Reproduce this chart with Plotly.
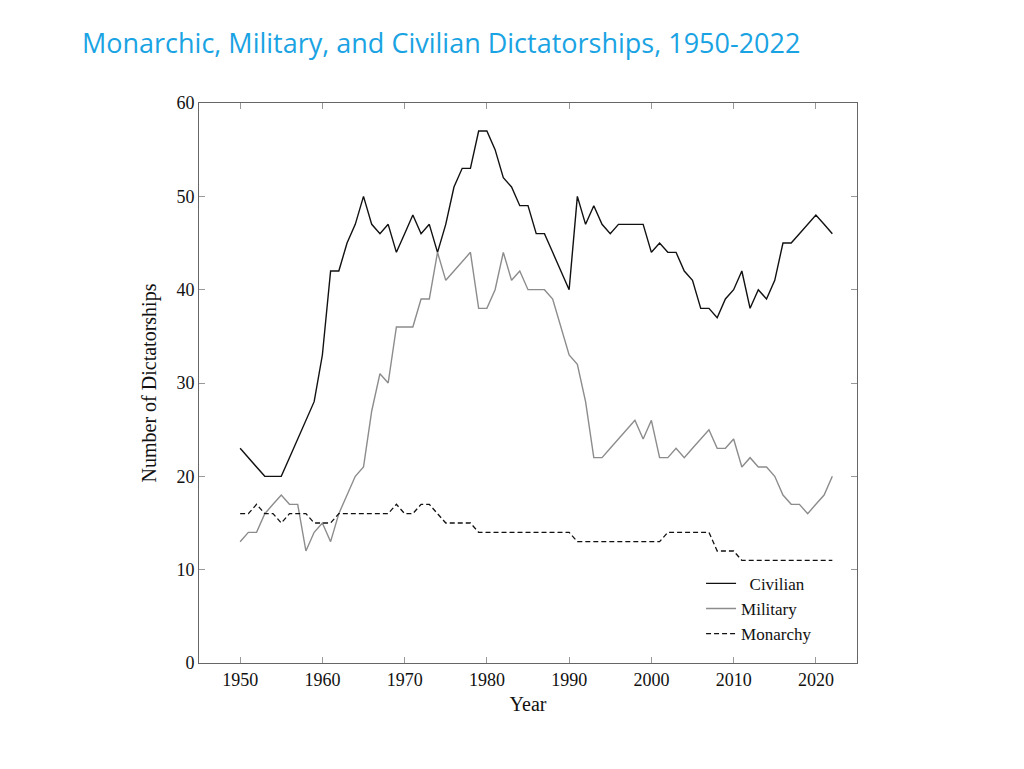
import plotly.graph_objects as go

years = list(range(1950, 2023))

civilian = [23, 22, 21, 20, 20, 20, 22, 24, 26, 28,
            33, 42, 42, 45, 47, 50, 47, 46, 47, 44,
            46, 48, 46, 47, 44, 47, 51, 53, 53, 57,
            57, 55, 52, 51, 49, 49, 46, 46, 44, 42,
            40, 50, 47, 49, 47, 46, 47, 47, 47, 47,
            44, 45, 44, 44, 42, 41, 38, 38, 37, 39,
            40, 42, 38, 40, 39, 41, 45, 45, 46, 47,
            48, 47, 46]

military = [13, 14, 14, 16, 17, 18, 17, 17, 12, 14,
            15, 13, 16, 18, 20, 21, 27, 31, 30, 36,
            36, 36, 39, 39, 44, 41, 42, 43, 44, 38,
            38, 40, 44, 41, 42, 40, 40, 40, 39, 36,
            33, 32, 28, 22, 22, 23, 24, 25, 26, 24,
            26, 22, 22, 23, 22, 23, 24, 25, 23, 23,
            24, 21, 22, 21, 21, 20, 18, 17, 17, 16,
            17, 18, 20]

monarchy = [16, 16, 17, 16, 16, 15, 16, 16, 16, 15,
            15, 15, 16, 16, 16, 16, 16, 16, 16, 17,
            16, 16, 17, 17, 16, 15, 15, 15, 15, 14,
            14, 14, 14, 14, 14, 14, 14, 14, 14, 14,
            14, 13, 13, 13, 13, 13, 13, 13, 13, 13,
            13, 13, 14, 14, 14, 14, 14, 14, 12, 12,
            12, 11, 11, 11, 11, 11, 11, 11, 11, 11,
            11, 11, 11]

x_ticks = [1950, 1960, 1970, 1980, 1990, 2000, 2010, 2020]
y_ticks = [0, 10, 20, 30, 40, 50, 60]

serif = "Liberation Serif, Times New Roman, serif"

fig = go.Figure()
fig.add_trace(go.Scatter(x=years, y=civilian, mode="lines", name="\u00a0\u00a0Civilian",
                         line=dict(color="#111111", width=1.4)))
fig.add_trace(go.Scatter(x=years, y=military, mode="lines", name="Military",
                         line=dict(color="#8c8c8c", width=1.4)))
fig.add_trace(go.Scatter(x=years, y=monarchy, mode="lines", name="Monarchy",
                         line=dict(color="#111111", width=1.3, dash="5px,3px")))

fig.update_layout(
    width=1024, height=769,
    margin=dict(l=191, r=175, t=95, b=114),
    paper_bgcolor="white", plot_bgcolor="white",
    font=dict(family=serif, size=18, color="#111111"),
    showlegend=True,
    legend=dict(x=0.763, y=0.02, xanchor="left", yanchor="bottom",
                bgcolor="rgba(0,0,0,0)", font=dict(family=serif, size=17),
                tracegroupgap=0, itemwidth=30),
    title=dict(text="Monarchic, Military, and Civilian Dictatorships, 1950-2022",
               xref="container", yref="container", x=74 / 1024, y=1 - 36 / 769,
               xanchor="left", yanchor="middle",
               font=dict(family="Open Sans, sans-serif", size=27, color="#1aa3e3")),
)

fig.update_xaxes(range=[1945, 2025], tickvals=x_ticks, ticks="inside", ticklen=6,
                 tickcolor="#999999", showline=True, linecolor="#666666", linewidth=1,
                 mirror="ticks", showgrid=False, zeroline=False,
                 title=dict(text="Year", font=dict(family=serif, size=20), standoff=8),
                 tickfont=dict(family=serif, size=18))
fig.update_yaxes(range=[0, 60], tickvals=y_ticks, ticks="inside", ticklen=6,
                 tickcolor="#999999", showline=True, linecolor="#666666", linewidth=1,
                 mirror="ticks", showgrid=False, zeroline=False,
                 title=dict(text="Number of Dictatorships", font=dict(family=serif, size=20), standoff=14),
                 tickfont=dict(family=serif, size=18))

fig.write_html("out.html")
